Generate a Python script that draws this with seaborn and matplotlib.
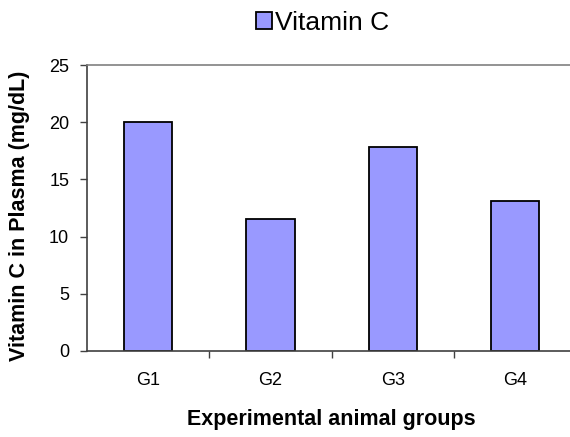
import pandas as pd
import matplotlib.pyplot as plt
import seaborn as sns
from matplotlib.patches import Patch

groups = ['G1', 'G2', 'G3', 'G4']
vitamin_c = [20.0, 11.5, 17.8, 13.1]

df = pd.DataFrame({'group': groups, 'value': vitamin_c})

sns.set_style('white')
plt.rcParams['font.family'] = ['Liberation Sans', 'DejaVu Sans']
plt.rcParams['text.color'] = 'black'
plt.rcParams['axes.labelcolor'] = 'black'
plt.rcParams['xtick.labelcolor'] = 'black'
plt.rcParams['ytick.labelcolor'] = 'black'

fig = plt.figure(figsize=(5.7, 4.37), dpi=100)
ax = fig.add_axes([0.153, 0.197, 0.858, 0.654])

sns.barplot(data=df, x='group', y='value', color='#9999FF', saturation=1,
            width=0.395, edgecolor='black', linewidth=1.3, ax=ax)

ax.set_ylim(0, 25)
ax.set_xlim(-0.5, 3.5)
ax.set_yticks([0, 5, 10, 15, 20, 25])
ax.tick_params(axis='y', direction='out', length=5, width=1, color='#404040',
               labelsize=13, left=True, pad=8)
ax.tick_params(axis='x', which='major', length=0, labelsize=13, pad=15)
# tick marks sit between the groups
ax.set_xticks([0.5, 1.5, 2.5], minor=True)
ax.tick_params(axis='x', which='minor', direction='out', length=5, width=1,
               color='#404040', bottom=True)

ax.spines['right'].set_visible(False)
ax.spines['top'].set_color('#808080')
ax.spines['left'].set_color('#404040')
ax.spines['bottom'].set_color('#404040')
for s in ['top', 'left', 'bottom']:
    ax.spines[s].set_linewidth(1.2)

ax.set_xlabel('Experimental animal groups', fontsize=15.5, fontweight='bold', labelpad=14.5)
ax.set_ylabel('Vitamin C in Plasma (mg/dL)', fontsize=15.5, fontweight='bold')
ax.yaxis.set_label_coords(-0.116, 0.474)

handle = Patch(facecolor='#9999FF', edgecolor='black', linewidth=1.3, label='Vitamin C')
fig.legend(handles=[handle], loc='center', bbox_to_anchor=(0.566, 0.947), frameon=False,
           fontsize=19, handlelength=0.6, handleheight=0.6, handletextpad=0.1)

fig.savefig('out.png', dpi=100)
